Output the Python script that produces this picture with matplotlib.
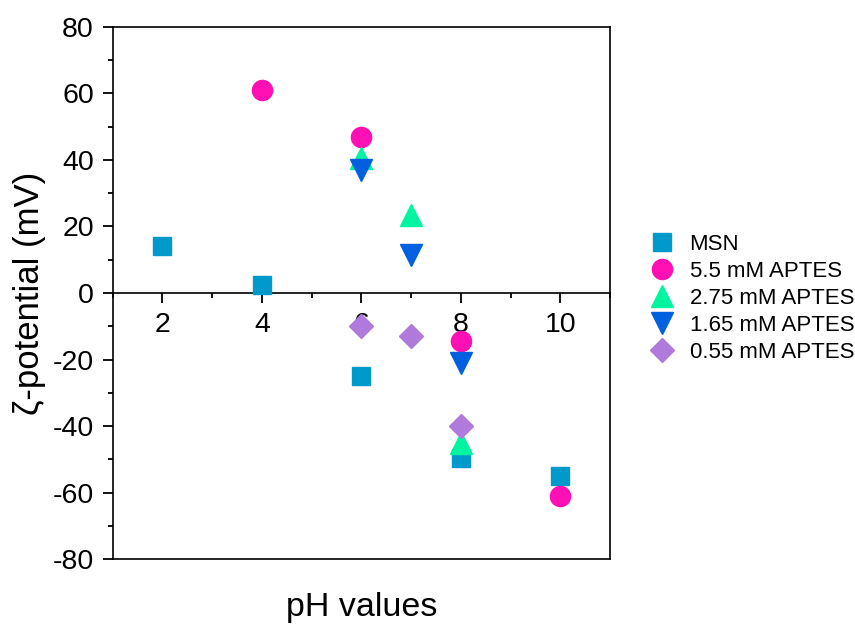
import matplotlib.pyplot as plt
from matplotlib.ticker import MultipleLocator

plt.rcParams['font.family'] = ['Liberation Sans', 'DejaVu Sans']
plt.rcParams['axes.unicode_minus'] = False

# data
ph_msn = [2, 4, 6, 8, 10]
zeta_msn = [14, 2.5, -25, -49.5, -55]
ph_55 = [4, 6, 8, 10]
zeta_55 = [61, 47, -14.5, -61]
ph_275 = [6, 7, 8]
zeta_275 = [40.5, 23.5, -45]
ph_165 = [6, 7, 8]
zeta_165 = [37, 11.5, -21]
ph_055 = [6, 7, 8]
zeta_055 = [-9.8, -13, -40]

fig = plt.figure(figsize=(8.55, 6.26), dpi=100)
ax = fig.add_axes([0.1318, 0.107, 0.5817, 0.8499])

ax.plot(ph_msn, zeta_msn, 's', ms=13, color='#0099CC', label='MSN', zorder=3)
ax.plot(ph_55, zeta_55, 'o', ms=14.5, color='#FF10B4', label='5.5 mM APTES', zorder=3)
ax.plot(ph_275, zeta_275, '^', ms=16.5, color='#00F5A0', label='2.75 mM APTES', zorder=3)
ax.plot(ph_165, zeta_165, 'v', ms=16.5, color='#0060E0', label='1.65 mM APTES', zorder=3)
ax.plot(ph_055, zeta_055, 'D', ms=12, color='#B07ADC', label='0.55 mM APTES', zorder=3)

ax.set_xlim(1, 11)
ax.set_ylim(-80, 80)
ax.yaxis.set_major_locator(MultipleLocator(20))
ax.yaxis.set_minor_locator(MultipleLocator(10))
ax.xaxis.set_major_locator(MultipleLocator(2))
ax.xaxis.set_minor_locator(MultipleLocator(1))
ax.tick_params(axis='both', which='major', length=7, width=1.3, labelsize=20.5,
               direction='out', pad=6.5)
ax.tick_params(axis='both', which='minor', length=3.5, width=1.3, direction='out')
for s in ax.spines.values():
    s.set_linewidth(1.2)

# x axis drawn through zero, frame kept at the bottom
ax.spines['bottom'].set_position(('data', 0))
frame = ax.secondary_xaxis('bottom')
frame.tick_params(which='both', bottom=False, labelbottom=False)
frame.spines['bottom'].set_linewidth(1.2)

frame.set_xlabel('pH values', fontsize=24.5, labelpad=24)
ax.set_ylabel('ζ-potential (mV)', fontsize=25, labelpad=5)

ax.legend(loc='center left', bbox_to_anchor=(1.055, 0.49), frameon=False, fontsize=16,
          handletextpad=0.55, labelspacing=0.27, borderaxespad=0, handlelength=1.4)

fig.savefig('out.png', dpi=100)
